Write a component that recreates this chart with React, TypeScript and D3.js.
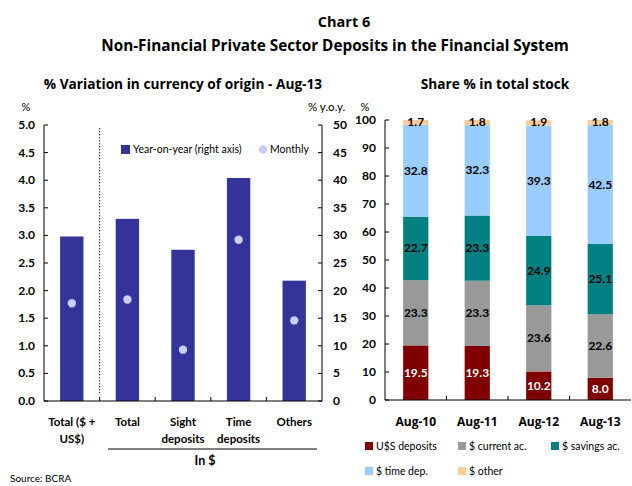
import React from "react";
import * as d3 from "d3";

const leftCategories = ["Total ($ + US$)", "Total", "Sight deposits", "Time deposits", "Others"];
const leftCatLines = [["Total ($ +", "US$)"], ["Total"], ["Sight", "deposits"], ["Time", "deposits"], ["Others"]];
const yoyValues = [29.8, 33.0, 27.4, 40.4, 21.8];
const monthlyValues = [1.77, 1.84, 0.93, 2.92, 1.46];
const leftTicks = [0, 0.5, 1, 1.5, 2, 2.5, 3, 3.5, 4, 4.5, 5];
const rightAxisTicks = [0, 5, 10, 15, 20, 25, 30, 35, 40, 45, 50];

const periods = ["Aug-10", "Aug-11", "Aug-12", "Aug-13"];
const seriesNames = ["U$S deposits", "$ current ac.", "$ savings ac.", "$ time dep.", "$ other"];
const usdDeposits = [19.5, 19.3, 10.2, 8.0];
const currentAc = [23.3, 23.3, 23.6, 22.6];
const savingsAc = [22.7, 23.3, 24.9, 25.1];
const timeDep = [32.8, 32.3, 39.3, 42.5];
const otherDep = [1.7, 1.8, 1.9, 1.8];
const shareTicks = [0, 10, 20, 30, 40, 50, 60, 70, 80, 90, 100];

const seriesColors = ["#800000", "#999999", "#008080", "#99CCFF", "#FFCC99"];
const FONT = "Lato, 'Open Sans', sans-serif";
const WIDE = "'Open Sans', Lato, sans-serif";

export default function App() {
  const W = 632, H = 486;
  // left chart
  const lx0 = 44, lx1 = 322, ly0 = 401, ly1 = 125;
  const xL = d3.scaleBand<string>().domain(leftCategories).range([lx0, lx1]).paddingInner(0.58).paddingOuter(0.29);
  const xLBand = d3.scaleBand<string>().domain(leftCategories).range([lx0, lx1]);
  const yL = d3.scaleLinear().domain([0, 5]).range([ly0, ly1]);
  const yR = d3.scaleLinear().domain([0, 50]).range([ly0, ly1]);

  // right chart
  const rx0 = 385, rx1 = 631, ry0 = 400, ry1 = 120;
  const xS = d3.scaleBand<string>().domain(periods).range([rx0, rx1]).paddingInner(0.59).paddingOuter(0.295);
  const xSBand = d3.scaleBand<string>().domain(periods).range([rx0, rx1]);
  const yS = d3.scaleLinear().domain([0, 100]).range([ry0, ry1]);

  const rows = periods.map((p, i) => ({
    period: p,
    s0: usdDeposits[i], s1: currentAc[i], s2: savingsAc[i], s3: timeDep[i], s4: otherDep[i],
  }));
  const stack = d3.stack<any>().keys(["s0", "s1", "s2", "s3", "s4"])(rows);

  const tickStyle = { fontFamily: FONT, fontSize: 12, fontWeight: 700, fill: "#000" } as const;
  const legendStyle = { fontFamily: FONT, fontSize: 10.5, fill: "#000" } as const;

  return (
    <svg width={W} height={H} style={{ position: "absolute", left: 0, top: 0, background: "#fff" }}>
      <text x={344} y={27} textAnchor="middle" style={{ fontFamily: WIDE, fontSize: 14.5, fontWeight: 700 }}>Chart 6</text>
      <text x={335} y={51} textAnchor="middle" style={{ fontFamily: WIDE, fontSize: 15.3, fontWeight: 700 }}>Non-Financial Private Sector Deposits in the Financial System</text>

      {/* Left chart */}
      <text x={183} y={89} textAnchor="middle" style={{ fontFamily: WIDE, fontSize: 13.7, fontWeight: 700 }}>% Variation in currency of origin - Aug-13</text>
      <text x={26} y={111} textAnchor="middle" style={{ fontFamily: FONT, fontSize: 11 }}>%</text>
      <text x={308} y={111} textAnchor="start" style={{ fontFamily: FONT, fontSize: 11.5 }}>% y.o.y.</text>

      {leftCategories.map((c, i) => (
        <rect key={c} x={xL(c)} y={yR(yoyValues[i])} width={xL.bandwidth()} height={ly0 - yR(yoyValues[i])} fill="#333399" />
      ))}
      {leftCategories.map((c, i) => (
        <circle key={c} cx={(xL(c) as number) + xL.bandwidth() / 2} cy={yL(monthlyValues[i])} r={4.2} fill="#CCCCFF" />
      ))}
      <line x1={xLBand(leftCategories[1])} x2={xLBand(leftCategories[1])} y1={ly1 + 3} y2={ly0 - 8} stroke="#000" strokeWidth={0.8} strokeDasharray="1.5,1.5" />

      <line x1={lx0} x2={lx0} y1={ly1} y2={ly0} stroke="#000" strokeWidth={1} />
      <line x1={lx1} x2={lx1} y1={ly1} y2={ly0} stroke="#000" strokeWidth={1} />
      <line x1={lx0} x2={lx1} y1={ly0} y2={ly0} stroke="#000" strokeWidth={1} />
      {leftTicks.map((t) => (
        <g key={t}>
          <line x1={lx0} x2={lx0 + 4} y1={yL(t)} y2={yL(t)} stroke="#000" />
          <text x={35} y={yL(t) + 4} textAnchor="end" style={tickStyle}>{t.toFixed(1)}</text>
        </g>
      ))}
      {rightAxisTicks.map((t) => (
        <g key={t}>
          <line x1={lx1 - 4} x2={lx1} y1={yR(t)} y2={yR(t)} stroke="#000" />
          <text x={333} y={yR(t) + 4} textAnchor="start" style={tickStyle}>{t}</text>
        </g>
      ))}
      {leftCategories.slice(1).map((c) => (
        <line key={c} x1={xLBand(c)} x2={xLBand(c)} y1={ly0 - 4} y2={ly0} stroke="#000" />
      ))}
      {leftCategories.map((c, i) => (
        <text key={c} x={(xLBand(c) as number) + xLBand.bandwidth() / 2} y={426} textAnchor="middle" style={{ ...tickStyle, fontSize: 11.5 }}>
          {leftCatLines[i].map((l, j) => (
            <tspan key={j} x={(xLBand(c) as number) + xLBand.bandwidth() / 2} dy={j === 0 ? 0 : 17}>{l}</tspan>
          ))}
        </text>
      ))}
      <line x1={108} x2={317} y1={449} y2={449} stroke="#000" strokeWidth={1} />
      <text x={205} y={465} textAnchor="middle" style={{ ...tickStyle, fontSize: 12.5 }}>In  $</text>

      {/* legend left */}
      <rect x={121} y={145} width={9} height={9} fill="#333399" />
      <text x={133} y={153} style={legendStyle}>Year-on-year (right axis)</text>
      <circle cx={263} cy={149.5} r={4.2} fill="#CCCCFF" />
      <text x={270} y={153} style={legendStyle}>Monthly</text>

      {/* Right chart */}
      <text x={495} y={89} textAnchor="middle" style={{ fontFamily: WIDE, fontSize: 13.7, fontWeight: 700 }}>Share % in total stock</text>
      <text x={365} y={111} textAnchor="middle" style={{ fontFamily: FONT, fontSize: 11 }}>%</text>

      {stack.map((layer, si) => (
        <g key={si}>
          {layer.map((d, i) => (
            <rect key={i} x={xS(periods[i])} y={yS(d[1])} width={xS.bandwidth()} height={yS(d[0]) - yS(d[1])} fill={seriesColors[si]} />
          ))}
        </g>
      ))}
      {stack.map((layer, si) => (
        <g key={"l" + si}>
          {layer.map((d, i) => {
            const v = d[1] - d[0];
            const cx = (xS(periods[i]) as number) + xS.bandwidth() / 2;
            const cy = si === 4 ? yS(d[1]) + 6 : (yS(d[0]) + yS(d[1])) / 2 + 4;
            return (
              <text key={i} x={cx} y={cy} textAnchor="middle" style={{ ...tickStyle, fontSize: 12, fill: si === 0 ? "#fff" : "#000" }}>{v.toFixed(1)}</text>
            );
          })}
        </g>
      ))}

      <line x1={rx0} x2={rx0} y1={ry1} y2={ry0} stroke="#000" strokeWidth={1} />
      <line x1={rx0} x2={rx1} y1={ry0} y2={ry0} stroke="#000" strokeWidth={1} />
      {shareTicks.map((t) => (
        <g key={t}>
          <line x1={rx0} x2={rx0 + 4} y1={yS(t)} y2={yS(t)} stroke="#000" />
          <text x={376} y={yS(t) + 4} textAnchor="end" style={tickStyle}>{t}</text>
        </g>
      ))}
      {periods.slice(1).map((p) => (
        <line key={p} x1={xSBand(p)} x2={xSBand(p)} y1={ry0 - 4} y2={ry0} stroke="#000" />
      ))}
      {periods.map((p) => (
        <text key={p} x={(xSBand(p) as number) + xSBand.bandwidth() / 2} y={426} textAnchor="middle" style={{ fontFamily: WIDE, fontSize: 12, fontWeight: 700 }}>{p}</text>
      ))}

      {/* legend right */}
      {seriesNames.map((n, i) => {
        const col = i % 3;
        const row = Math.floor(i / 3);
        const x = 365 + col * 93;
        const y = 442 + row * 25;
        return (
          <g key={n}>
            <rect x={x} y={y} width={8} height={8} fill={seriesColors[i]} />
            <text x={x + 11} y={y + 8} style={legendStyle}>{n}</text>
          </g>
        );
      })}

      <text x={10} y={482} style={{ fontFamily: FONT, fontSize: 10 }}>Source: BCRA</text>
    </svg>
  );
}
